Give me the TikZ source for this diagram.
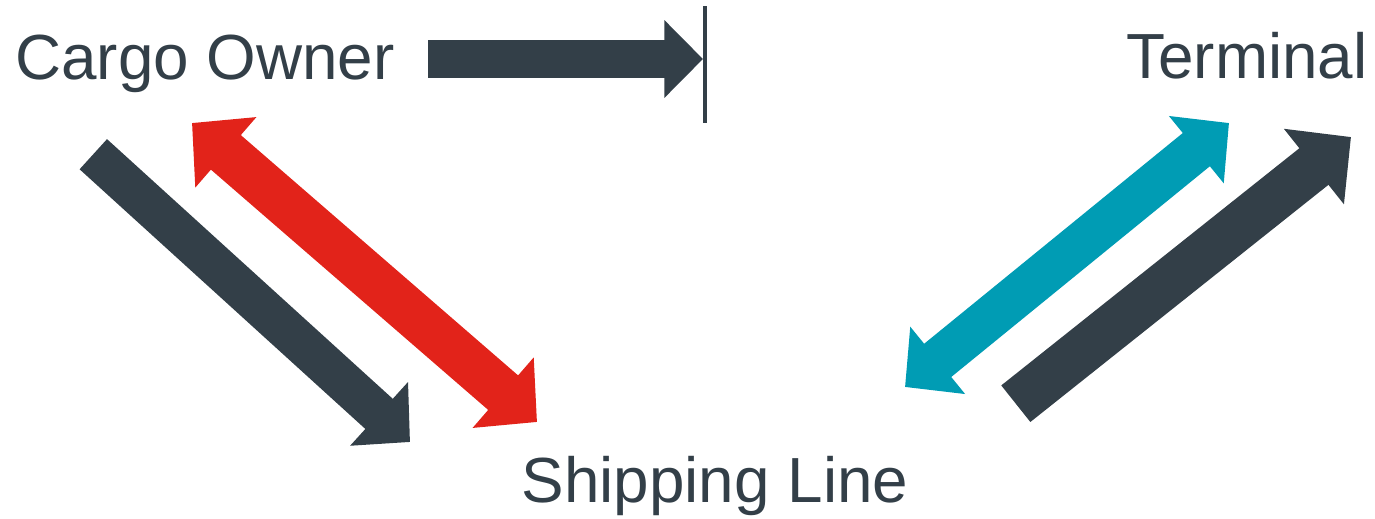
\documentclass[tikz,border=0pt]{standalone}
\usepackage{fontspec}
\setmainfont{Liberation Sans}
\usetikzlibrary{arrows.meta}
\definecolor{slate}{HTML}{333F48}
\definecolor{signalred}{HTML}{E2231A}
\definecolor{petrol}{HTML}{009CB4}
\tikzset{
	party/.style={font=\fontsize{36.3}{40}\selectfont, text=slate, inner sep=0pt, anchor=base},
}
\begin{document}
\begin{tikzpicture}[x=0.02cm, y=-0.02cm]
	\useasboundingbox (0,0) rectangle (1375,518);
	\node[party] (owner) at (205,79) {Cargo Owner};
	\node[party] (terminal) at (1247,78) {Terminal};
	\node[party] (shipping) at (715,502) {Shipping Line};
	\coordinate (ownerout) at (428,59);
	\coordinate (barmid) at (703,59);
	\coordinate (bartop) at (705,6);
	\coordinate (barbot) at (705,123);
	\draw[slate, line width=2.8pt] (bartop) -- (barbot);
	\draw[slate, line width=22pt, -{Triangle[length=22pt, width=43pt]}] (ownerout) -- (barmid);
	\coordinate (A1) at (93.3,154.2);
	\coordinate (A2) at (410,442);
	\draw[slate, line width=23.2pt, -{Triangle[length=23.8pt, width=47.6pt]}] (A1) -- (A2);
	\coordinate (R1) at (192,123);
	\coordinate (R2) at (537,422);
	\draw[signalred, line width=26pt, {Triangle[length=25.5pt, width=51.6pt]}-{Triangle[length=25.5pt, width=51.6pt]}] (R1) -- (R2);
	\coordinate (T1) at (905,387);
	\coordinate (T2) at (1229,123);
	\draw[petrol, line width=24.4pt, {Triangle[length=24pt, width=48pt]}-{Triangle[length=24pt, width=48pt]}] (T1) -- (T2);
	\coordinate (B1) at (1015.8,403.7);
	\coordinate (B2) at (1351,137);
	\draw[slate, line width=26.6pt, -{Triangle[length=27pt, width=53.3pt]}] (B1) -- (B2);
\end{tikzpicture}
\end{document}
